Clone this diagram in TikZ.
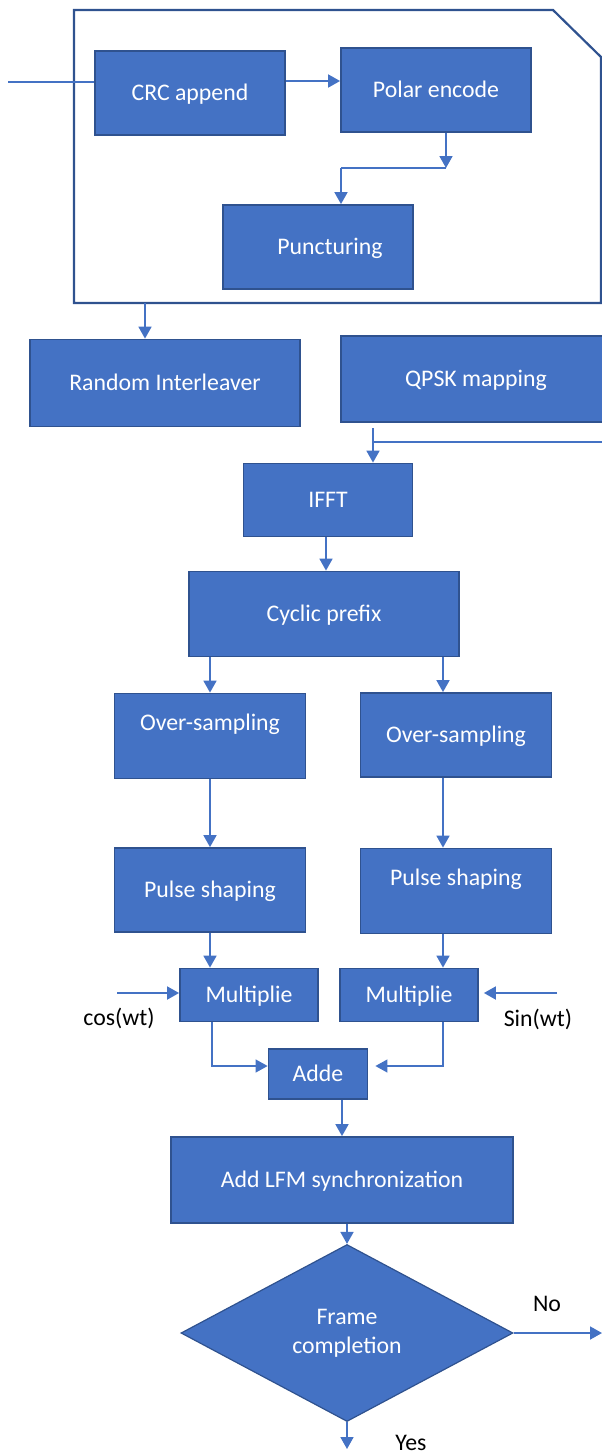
\documentclass[tikz,border=0pt]{standalone}
\usepackage{fontspec}
\setmainfont{Carlito}
\usepackage{tikz}
\usetikzlibrary{arrows.meta,positioning,shapes.geometric}
\definecolor{boxblue}{HTML}{4472C4}
\definecolor{edgeblue}{HTML}{2F528F}

\begin{document}
\begin{tikzpicture}[
  x=1pt, y=-1pt,
  font=\fontsize{23.8}{29}\selectfont,
  block/.style={draw=edgeblue, line width=1.8pt, fill=boxblue, text=white,
                inner sep=0pt, text height=17pt, text depth=3pt},
  textup/.style={text depth=29pt},
  decision/.style={diamond, draw=edgeblue, line width=1.2pt, fill=boxblue,
                   text=white, align=center, inner sep=0pt},
  frame/.style={draw=edgeblue, line width=2.2pt},
  arrow/.style={-{Triangle[length=12pt, width=13pt]}, line width=1.8pt, draw=boxblue},
  thinarrow/.style={-{Triangle[length=12pt, width=13pt]}, line width=1.2pt, draw=boxblue},
  wire/.style={line width=1.2pt, draw=boxblue},
  tag/.style={text=black, inner sep=0pt}
]
  \useasboundingbox (0,0) rectangle (602,1454);

  % encoder group
  \draw[frame] (74,10) -- (553,10) -- (601,57) -- (601,303) -- (74,303) -- cycle;
  \node[block, minimum width=190pt, minimum height=84pt] (crc) at (190,93) {CRC append};
  \node[block, minimum width=190pt, minimum height=84pt] (polar) at (436,90) {Polar encode};
  \node[block, minimum width=190pt, minimum height=84pt] (punct) at (318,247) {\hspace*{24pt}Puncturing};

  \node[block, minimum width=270pt, minimum height=87pt] (ri) at (165,383) {Random Interleaver};
  \node[block, minimum width=270pt, minimum height=86pt] (qpsk) at (476,379) {QPSK mapping};
  \node[block, minimum width=169pt, minimum height=73pt] (ifft) at (328,500) {IFFT};
  \node[block, minimum width=270pt, minimum height=85pt] (cyc) at (324,614) {Cyclic prefix};

  % two branches
  \node[block, textup, minimum width=191pt, minimum height=85pt] (os1) at (210,736) {Over-sampling};
  \node[block, minimum width=191pt, minimum height=84pt] (os2) at (456,735) {Over-sampling};
  \node[block, minimum width=191pt, minimum height=84pt] (ps1) at (210,890) {Pulse shaping};
  \node[block, textup, minimum width=191pt, minimum height=85pt] (ps2) at (456,891) {Pulse shaping};
  \node[block, minimum width=138pt, minimum height=53pt] (mul1) at (249,995) {Multiplie};
  \node[block, minimum width=138pt, minimum height=53pt] (mul2) at (409,995) {Multiplie};
  \node[tag] (cos) at (119,1018) {cos(wt)};
  \node[tag] (sin) at (538,1019) {Sin(wt)};
  \node[block, minimum width=99pt, minimum height=50pt] (add) at (318,1074) {Adde};

  \node[block, minimum width=342pt, minimum height=86pt] (lfm) at (342,1180) {Add LFM synchronization};
  \node[decision, minimum width=332pt, minimum height=177pt] (dec) at (347,1333) {Frame\\completion};
  \node[tag] (no) at (547,1304) {No};
  \node[tag] (yes) at (411,1443) {Yes};

  \coordinate (src) at (8,82);
  \coordinate (pbend) at (446,168);
  \coordinate (fout) at (145,303);
  \coordinate (qout) at (373,428);
  \coordinate (back) at (604,442);
  \coordinate (cosin) at (117,993);
  \coordinate (sinin) at (557,993);
  \coordinate (noout) at (602,1333);
  \coordinate (yesout) at (347,1449);

  \draw[wire] (src) -- (src -| crc.west);
  \draw[arrow] ([yshift=12pt]crc.east) -- ([yshift=12pt]crc.east -| polar.west);
  \draw[arrow] (polar.south -| pbend) -- (pbend);
  \draw[wire] (pbend) -- ++(-105,0) coordinate (pleft);
  \draw[arrow] (pleft) -- (pleft |- punct.north);
  \draw[arrow] (fout) -- (fout |- ri.north);
  \draw[arrow] (qout) -- (qout |- ifft.north);
  \draw[wire] (back) -- (back -| qout);
  \draw[arrow] ([xshift=-2pt]ifft.south) -- ([xshift=-2pt]ifft.south |- cyc.north);
  \draw[arrow] (os1.north |- cyc.south) -- (os1.north);
  \draw[arrow] ([xshift=-13pt]os2.north |- cyc.south) -- ([xshift=-13pt]os2.north);
  \draw[arrow] (os1.south) -- (ps1.north);
  \draw[arrow] ([xshift=-13pt]os2.south) -- ([xshift=-13pt]ps2.north);
  \draw[arrow] (ps1.south) -- (ps1.south |- mul1.north);
  \draw[arrow] ([xshift=-13pt]ps2.south) -- ([xshift=-13pt]ps2.south |- mul2.north);
  \draw[arrow] (cosin) -- (cosin -| mul1.west);
  \draw[arrow] (sinin) -- ([xshift=5pt]sinin -| mul2.east);
  \draw[thinarrow] ([xshift=2pt]ps1.south |- mul1.south) |- ([yshift=8pt]add.west);
  \draw[thinarrow] ([xshift=-13pt]ps2.south |- mul2.south) |- ([xshift=7pt,yshift=8pt]add.east);
  \draw[arrow] (add.south -| lfm.north) -- (lfm.north);
  \draw[arrow] (lfm.south -| dec.north) -- (dec.north);
  \draw[arrow] (dec.east) -- (noout);
  \draw[arrow] (dec.south) -- (yesout);
\end{tikzpicture}
\end{document}
